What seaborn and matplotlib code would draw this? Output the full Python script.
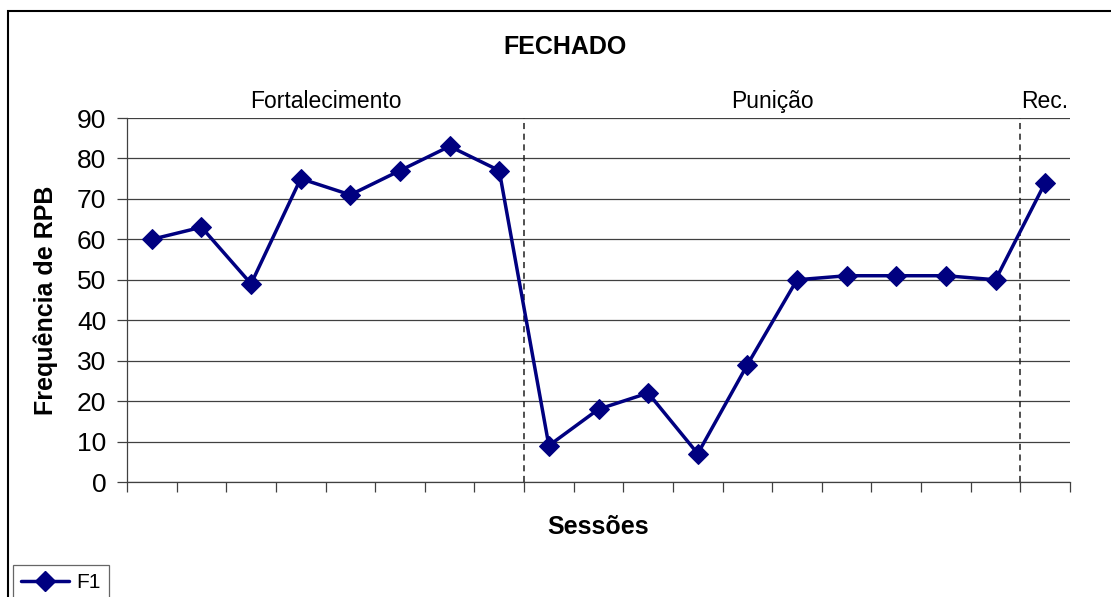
import matplotlib
matplotlib.use("Agg")
import matplotlib.pyplot as plt
import matplotlib.transforms as mtransforms
from matplotlib.patches import Rectangle
import numpy as np
import pandas as pd
import seaborn as sns

# ---- data ----
sessions = list(range(1, 20))
f1_values = [60, 63, 49, 75, 71, 77, 83, 77, 9, 18, 22, 7, 29, 50, 51, 51, 51, 50, 74]
phase_labels = ["Fortalecimento", "Punição", "Rec."]
phase_centers = [4.5, 13.5, 19]       # session-number centers of each phase
phase_breaks = [8.5, 18.5]            # boundaries between phases
y_ticks = [0, 10, 20, 30, 40, 50, 60, 70, 80, 90]
series_name = "F1"

df = pd.DataFrame({"Sessões": sessions, "Frequência": f1_values, "Série": series_name})

sns.set_theme(style="white")
plt.rcParams["font.family"] = ["Liberation Sans", "DejaVu Sans"]
plt.rcParams["text.color"] = "black"
plt.rcParams["axes.labelcolor"] = "black"
plt.rcParams["xtick.color"] = "black"
plt.rcParams["ytick.color"] = "black"

fig = plt.figure(figsize=(11.11, 5.97), dpi=100)
ax = fig.add_axes([127 / 1111, 1 - 482 / 597, (1070 - 127) / 1111, (482 - 118) / 597])

navy = "#000080"
sns.lineplot(data=df, x="Sessões", y="Frequência", hue="Série", palette=[navy],
             marker="D", markersize=10, markeredgecolor=navy, linewidth=2.5,
             ax=ax, legend=False)

ax.set_xlim(0.5, 19.5)
ax.set_ylim(0, 90)
ax.set_yticks(y_ticks)
ax.set_xticks(np.arange(0.5, 20.5, 1))
ax.set_xticklabels([])
ax.tick_params(axis="both", which="major", direction="out", length=7, width=0.9,
               color="#404040", bottom=True, left=True)
ax.tick_params(axis="y", labelsize=19, pad=8, labelcolor="black")

ax.yaxis.grid(True, color="#404040", linewidth=0.9)
ax.set_axisbelow(True)
for s in ["top", "right"]:
    ax.spines[s].set_visible(False)
for s in ["left", "bottom"]:
    ax.spines[s].set_color("#404040")
    ax.spines[s].set_linewidth(0.9)

for b in phase_breaks:
    ax.axvline(b, color="#202020", linestyle=(0, (4, 3)), linewidth=1.1, zorder=1)

trans = mtransforms.blended_transform_factory(ax.transData, ax.transAxes)
for lab, c in zip(phase_labels, phase_centers):
    ax.text(c, 1.045, lab, transform=trans, ha="center", va="center",
            fontsize=16.5, color="black")

ax.set_ylabel("Frequência de RPB", fontsize=18, fontweight="bold", color="black")
ax.yaxis.set_label_coords(-0.086, 0.5)
ax.yaxis.label.set_va("center")
ax.set_xlabel("Sessões", fontsize=18, fontweight="bold", color="black")
ax.xaxis.set_label_coords(0.5, -0.124)
ax.xaxis.label.set_va("center")

fig.text(565 / 1111, 1 - 47 / 597, "FECHADO", ha="center", va="center",
         fontsize=18, fontweight="bold", color="black")

# outer chart border
fig.patches.append(Rectangle((8 / 1111, -0.05), 1.2, 1 - 11 / 597 + 0.05,
                             transform=fig.transFigure, fill=False,
                             edgecolor="black", linewidth=1.5))

handle = plt.Line2D([], [], color=navy, marker="D", markersize=10, linewidth=2.5)
leg = fig.legend([handle], [series_name], loc="upper left",
                 bbox_to_anchor=(13 / 1111, 1 - 565 / 597), fontsize=15,
                 frameon=True, fancybox=False, edgecolor="#404040",
                 handlelength=2.3, borderpad=0.4, handletextpad=0.35,
                 borderaxespad=0)
leg.get_frame().set_linewidth(0.9)
for t in leg.get_texts():
    t.set_color("black")

fig.savefig("out.png", dpi=100)
